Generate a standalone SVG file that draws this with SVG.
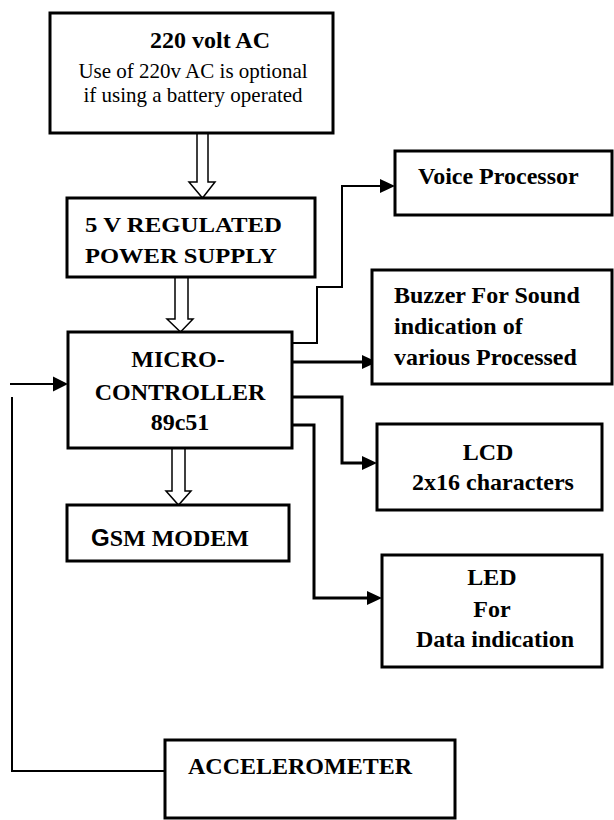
<svg xmlns="http://www.w3.org/2000/svg" width="614" height="820" viewBox="0 0 614 820">
<style>
.box{fill:#fff;stroke:#000;stroke-width:3}
.t{font-family:"Liberation Serif","Times New Roman",serif;font-size:24px;font-weight:bold;fill:#000}
.r{font-family:"Liberation Serif","Times New Roman",serif;font-size:21px;fill:#000}
.c{fill:none;stroke:#000;stroke-linejoin:miter}
.hollow{fill:#fff;stroke:#000;stroke-width:1.5}
.head{fill:#000;stroke:none}
</style>
<rect width="614" height="820" fill="#fff"/>
<g id="connectors">
<path class="hollow" d="M197,133 L208,133 L208,182 L215,182 L202.5,198 L189,182 L197,182 Z"/>
<path class="hollow" d="M175,277 L188,277 L188,319 L193,319 L180.5,332 L167,319 L175,319 Z"/>
<path class="hollow" d="M172,448 L185,448 L185,491 L191,491 L178.5,505 L166,491 L172,491 Z"/>
<path class="c" stroke-width="2" d="M10,384 L55,384"/>
<polygon class="head" points="53,376.5 68,384 53,391.5"/>
<path class="c" stroke-width="2" d="M12,397 L12,771 L165,771"/>
<path class="c" stroke-width="2" d="M292,343 L317,343 L317,287 L342,287 L342,186 L382,186"/>
<polygon class="head" points="380,179 395,186 380,193"/>
<path class="c" stroke-width="3" d="M292,362 L364,362"/>
<polygon class="head" points="362,355 377,362 362,369"/>
<path class="c" stroke-width="3" d="M292,397 L342,397 L342,463 L364,463"/>
<polygon class="head" points="362,456 377,463 362,470"/>
<path class="c" stroke-width="3" d="M292,425 L314,425 L314,598 L369,598"/>
<polygon class="head" points="367,591 382,598 367,605"/>
</g>
<g id="ac">
<rect class="box" x="50" y="13" width="283" height="120"/>
<text class="t" x="150" y="48">220 volt AC</text>
<text class="r" x="193" y="78" text-anchor="middle">Use of 220v AC is optional</text>
<text class="r" x="193" y="102" text-anchor="middle">if using a battery operated</text>
</g>
<g id="psu">
<rect class="box" x="67" y="198" width="248" height="79"/>
<text class="t" x="85" y="232" style="font-size:22px" textLength="197" lengthAdjust="spacingAndGlyphs">5 V REGULATED</text>
<text class="t" x="85" y="263" style="font-size:22px" textLength="192" lengthAdjust="spacingAndGlyphs">POWER SUPPLY</text>
</g>
<g id="mcu">
<rect class="box" x="68" y="332" width="224" height="116"/>
<text class="t" x="178" y="367" text-anchor="middle">MICRO-</text>
<text class="t" x="180" y="400" text-anchor="middle">CONTROLLER</text>
<text class="t" x="180" y="430" text-anchor="middle">89c51</text>
</g>
<g id="gsm">
<rect class="box" x="67" y="505" width="222" height="56"/>
<text class="t" x="91" y="546"><tspan style="font-family:'Liberation Sans',Arial,sans-serif">G</tspan>SM MODEM</text>
</g>
<g id="voice">
<rect class="box" x="395" y="151" width="217" height="64"/>
<text class="t" x="418" y="184">Voice Processor</text>
</g>
<g id="buzzer">
<rect class="box" x="372" y="270" width="240" height="114"/>
<text class="t" x="394" y="303">Buzzer For Sound</text>
<text class="t" x="394" y="334">indication of</text>
<text class="t" x="394" y="365">various Processed</text>
</g>
<g id="lcd">
<rect class="box" x="377" y="424" width="225" height="86"/>
<text class="t" x="488" y="460" text-anchor="middle">LCD</text>
<text class="t" x="493" y="490" text-anchor="middle">2x16 characters</text>
</g>
<g id="led">
<rect class="box" x="382" y="555" width="220" height="112"/>
<text class="t" x="492" y="585" text-anchor="middle">LED</text>
<text class="t" x="492" y="617" text-anchor="middle">For</text>
<text class="t" x="495" y="647" text-anchor="middle">Data indication</text>
</g>
<g id="accelerometer">
<rect class="box" x="165" y="740" width="290" height="78"/>
<text class="t" x="188" y="774">ACCELEROMETER</text>
</g>
</svg>
